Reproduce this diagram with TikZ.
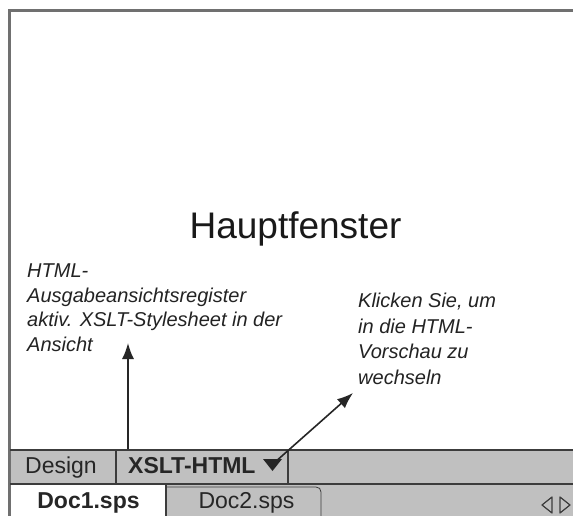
\documentclass[tikz,border=0pt]{standalone}
\usepackage{fontspec}
\setmainfont{Liberation Sans}
\usetikzlibrary{arrows.meta}
\definecolor{framegray}{RGB}{112,112,112}
\definecolor{bargray}{RGB}{192,192,192}
\definecolor{linegray}{RGB}{60,60,60}
\definecolor{textgray}{RGB}{35,35,35}

\begin{document}
\begin{tikzpicture}[x=1pt, y=-1pt,
    note/.style={anchor=north west, inner sep=0pt, align=left, text=textgray,
        font=\fontsize{20}{24.5}\selectfont\itshape},
    tablabel/.style={anchor=base, inner sep=0pt, text=black!85,
        font=\fontsize{23}{27}\selectfont},
    tabbold/.style={tablabel, font=\fontsize{23}{27}\selectfont\bfseries},
    sepline/.style={linegray, line width=2pt},
    pointer/.style={-{Latex[length=16pt,width=12pt]}, line width=1.6pt, black!85}]
    \useasboundingbox (0,0) rectangle (573,516);
    % window, view bar and document tabs
    \fill[white] (9,10) rectangle (573,516);
    \fill[bargray] (10,450) rectangle (573,516);
    \fill[white] (11,485) rectangle (166,516);
    \draw[linegray, line width=0.8pt, fill=bargray] (166,516) -- (166,487) -- (316,487)
        .. controls (319,487) and (321,489) .. (321,492) -- (321,516);
    \draw[framegray, line width=3pt] (9,516) -- (9,10.5) -- (573,10.5);
    \draw[sepline] (10,450) -- (573,450);
    \draw[sepline] (10,483.5) -- (573,483.5);
    \draw[sepline] (116,450) -- (116,483);
    \draw[sepline] (288,450) -- (288,483);
    \draw[sepline] (166,483) -- (166,516);

    \node[font=\fontsize{37}{44}\selectfont, anchor=base, inner sep=0pt, text=black!90]
        (haupt) at (295.5,238) {Hauptfenster};

    \node[note] (register) at (27,264) {HTML-\\Ausgabeansichtsregister\\aktiv. XSLT-Stylesheet in der\\Ansicht};
    \node[note, font=\fontsize{20}{25.5}\selectfont\itshape] (klicken) at (358,293)
        {Klicken Sie, um\\in die HTML-\\Vorschau zu\\wechseln};

    \node[tablabel] (design) at (61,473) {Design};
    \node[tabbold, anchor=base west] (xslt) at (128,473) {XSLT-HTML};
    \fill[black!85] (263,459) -- (282,459) -- (272.5,471) -- cycle;
    \coordinate (menu) at (274,463);

    \node[tabbold] (doc1) at (88.5,508) {Doc1.sps};
    \node[tablabel] (doc2) at (246.5,508) {Doc2.sps};

    % scroll buttons
    \draw[linegray, line width=1.2pt, line join=round] (552,497) -- (542,505) -- (552,513) -- cycle;
    \draw[linegray, line width=1.2pt, line join=round] (560,497) -- (570,505) -- (560,513) -- cycle;

    % pointers
    \coordinate (regbase) at (128,449);
    \coordinate (regtip) at (128,343);
    \coordinate (klicktip) at (353,393);
    \draw[pointer] (regbase) -- (regtip);
    \draw[pointer] (menu) -- (klicktip);
\end{tikzpicture}
\end{document}
